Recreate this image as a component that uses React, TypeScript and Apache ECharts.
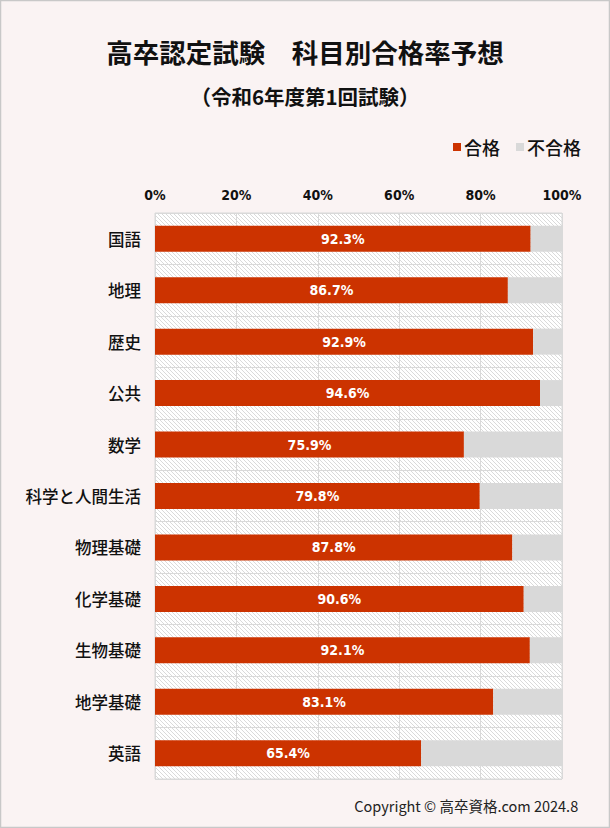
import React, { useEffect, useRef } from "react";
import * as echarts from "echarts";

const categories = ["国語", "地理", "歴史", "公共", "数学", "科学と人間生活", "物理基礎", "化学基礎", "生物基礎", "地学基礎", "英語"];
const passRates = [92.3, 86.7, 92.9, 94.6, 75.9, 79.8, 87.8, 90.6, 92.1, 83.1, 65.4];
const failRates = [7.7, 13.3, 7.1, 5.4, 24.1, 20.2, 12.2, 9.4, 7.9, 16.9, 34.6];
const xTicks = [0, 20, 40, 60, 80, 100];

const CJK = "'Noto Sans CJK JP', 'Noto Sans', sans-serif";
const NARROW = "'Liberation Sans Narrow', 'DejaVu Sans Condensed', 'Roboto Condensed', 'Roboto', sans-serif";

function hatchImage(): string {
  const c = document.createElement("canvas");
  c.width = 4;
  c.height = 4;
  const ctx = c.getContext("2d")!;
  ctx.fillStyle = "#ffffff";
  ctx.fillRect(0, 0, 4, 4);
  ctx.strokeStyle = "#dadada";
  ctx.lineWidth = 1;
  ctx.beginPath();
  ctx.moveTo(-1, -1);
  ctx.lineTo(5, 5);
  ctx.moveTo(-1, 3);
  ctx.lineTo(1, 5);
  ctx.moveTo(3, -1);
  ctx.lineTo(5, 1);
  ctx.stroke();
  return c.toDataURL();
}

export default function App() {
  const ref = useRef<HTMLDivElement>(null);
  useEffect(() => {
    if (!ref.current) return;
    const chart = echarts.init(ref.current, null, { renderer: "svg" });
    const hatch = hatchImage();
    chart.setOption({
      animation: false,
      backgroundColor: "#faf3f3",
      title: [
        {
          text: "高卒認定試験　科目別合格率予想",
          left: "center",
          top: 33,
          textStyle: { fontFamily: CJK, fontSize: 26.5, fontWeight: "bold", color: "#111" },
        },
        {
          text: "（令和6年度第1回試験）",
          left: "center",
          top: 81,
          textStyle: { fontFamily: CJK, fontSize: 20.5, fontWeight: "bold", color: "#111" },
        },
      ],
      legend: {
        right: 24,
        top: 133,
        icon: "rect",
        itemWidth: 8,
        itemHeight: 8,
        itemGap: 16,
        textStyle: { fontFamily: CJK, fontSize: 18, fontWeight: 500, color: "#111", padding: [0, 0, 0, -2] },
        data: ["合格", "不合格"],
      },
      graphic: [
        {
          type: "rect",
          shape: { x: 0.5, y: 0.5, width: 609, height: 827 },
          style: { fill: "none", stroke: "#c8c8c8", lineWidth: 1.5 },
          silent: true,
        },
        {
          type: "text",
          right: 32,
          top: 798,
          style: { text: "Copyright © 高卒資格.com 2024.8", fontFamily: CJK, fontSize: 14.5, fill: "#222" },
        },
      ],
      grid: {
        left: 155,
        right: 48,
        top: 213,
        bottom: 49,
        show: true,
        backgroundColor: { image: hatch, repeat: "repeat" },
        borderColor: "#d9d9d9",
        borderWidth: 1,
      },
      xAxis: {
        type: "value",
        position: "top",
        min: 0,
        max: 100,
        interval: 20,
        axisLine: { show: false },
        axisTick: { show: false },
        splitLine: { show: true, lineStyle: { color: "#d9d9d9", width: 1 } },
        axisLabel: {
          margin: 11,
          fontFamily: NARROW,
          fontWeight: "bold",
          fontSize: 14,
          color: "#111",
          formatter: (v: number) => (xTicks.includes(v) ? v + "%" : ""),
        },
      },
      yAxis: {
        type: "category",
        inverse: true,
        data: categories,
        axisLine: { show: false },
        axisTick: { show: false },
        splitLine: { show: true, lineStyle: { color: "#d9d9d9", width: 1 } },
        axisLabel: { margin: 14, fontFamily: CJK, fontSize: 16.5, fontWeight: 500, color: "#111" },
      },
      series: [
        {
          name: "合格",
          type: "bar",
          stack: "total",
          barWidth: 26,
          data: passRates,
          itemStyle: { color: "#cc3300" },
          label: {
            show: true,
            position: "inside",
            color: "#fff",
            fontFamily: NARROW,
            fontWeight: "bold",
            fontSize: 14,
            formatter: (p: any) => p.value.toFixed(1) + "%",
          },
        },
        {
          name: "不合格",
          type: "bar",
          stack: "total",
          barWidth: 26,
          data: failRates,
          itemStyle: { color: "#d9d9d9" },
        },
      ],
    });
    return () => chart.dispose();
  }, []);
  return (
    <div
      ref={ref}
      style={{ position: "fixed", left: 0, top: 0, width: 610, height: 828 }}
    />
  );
}
